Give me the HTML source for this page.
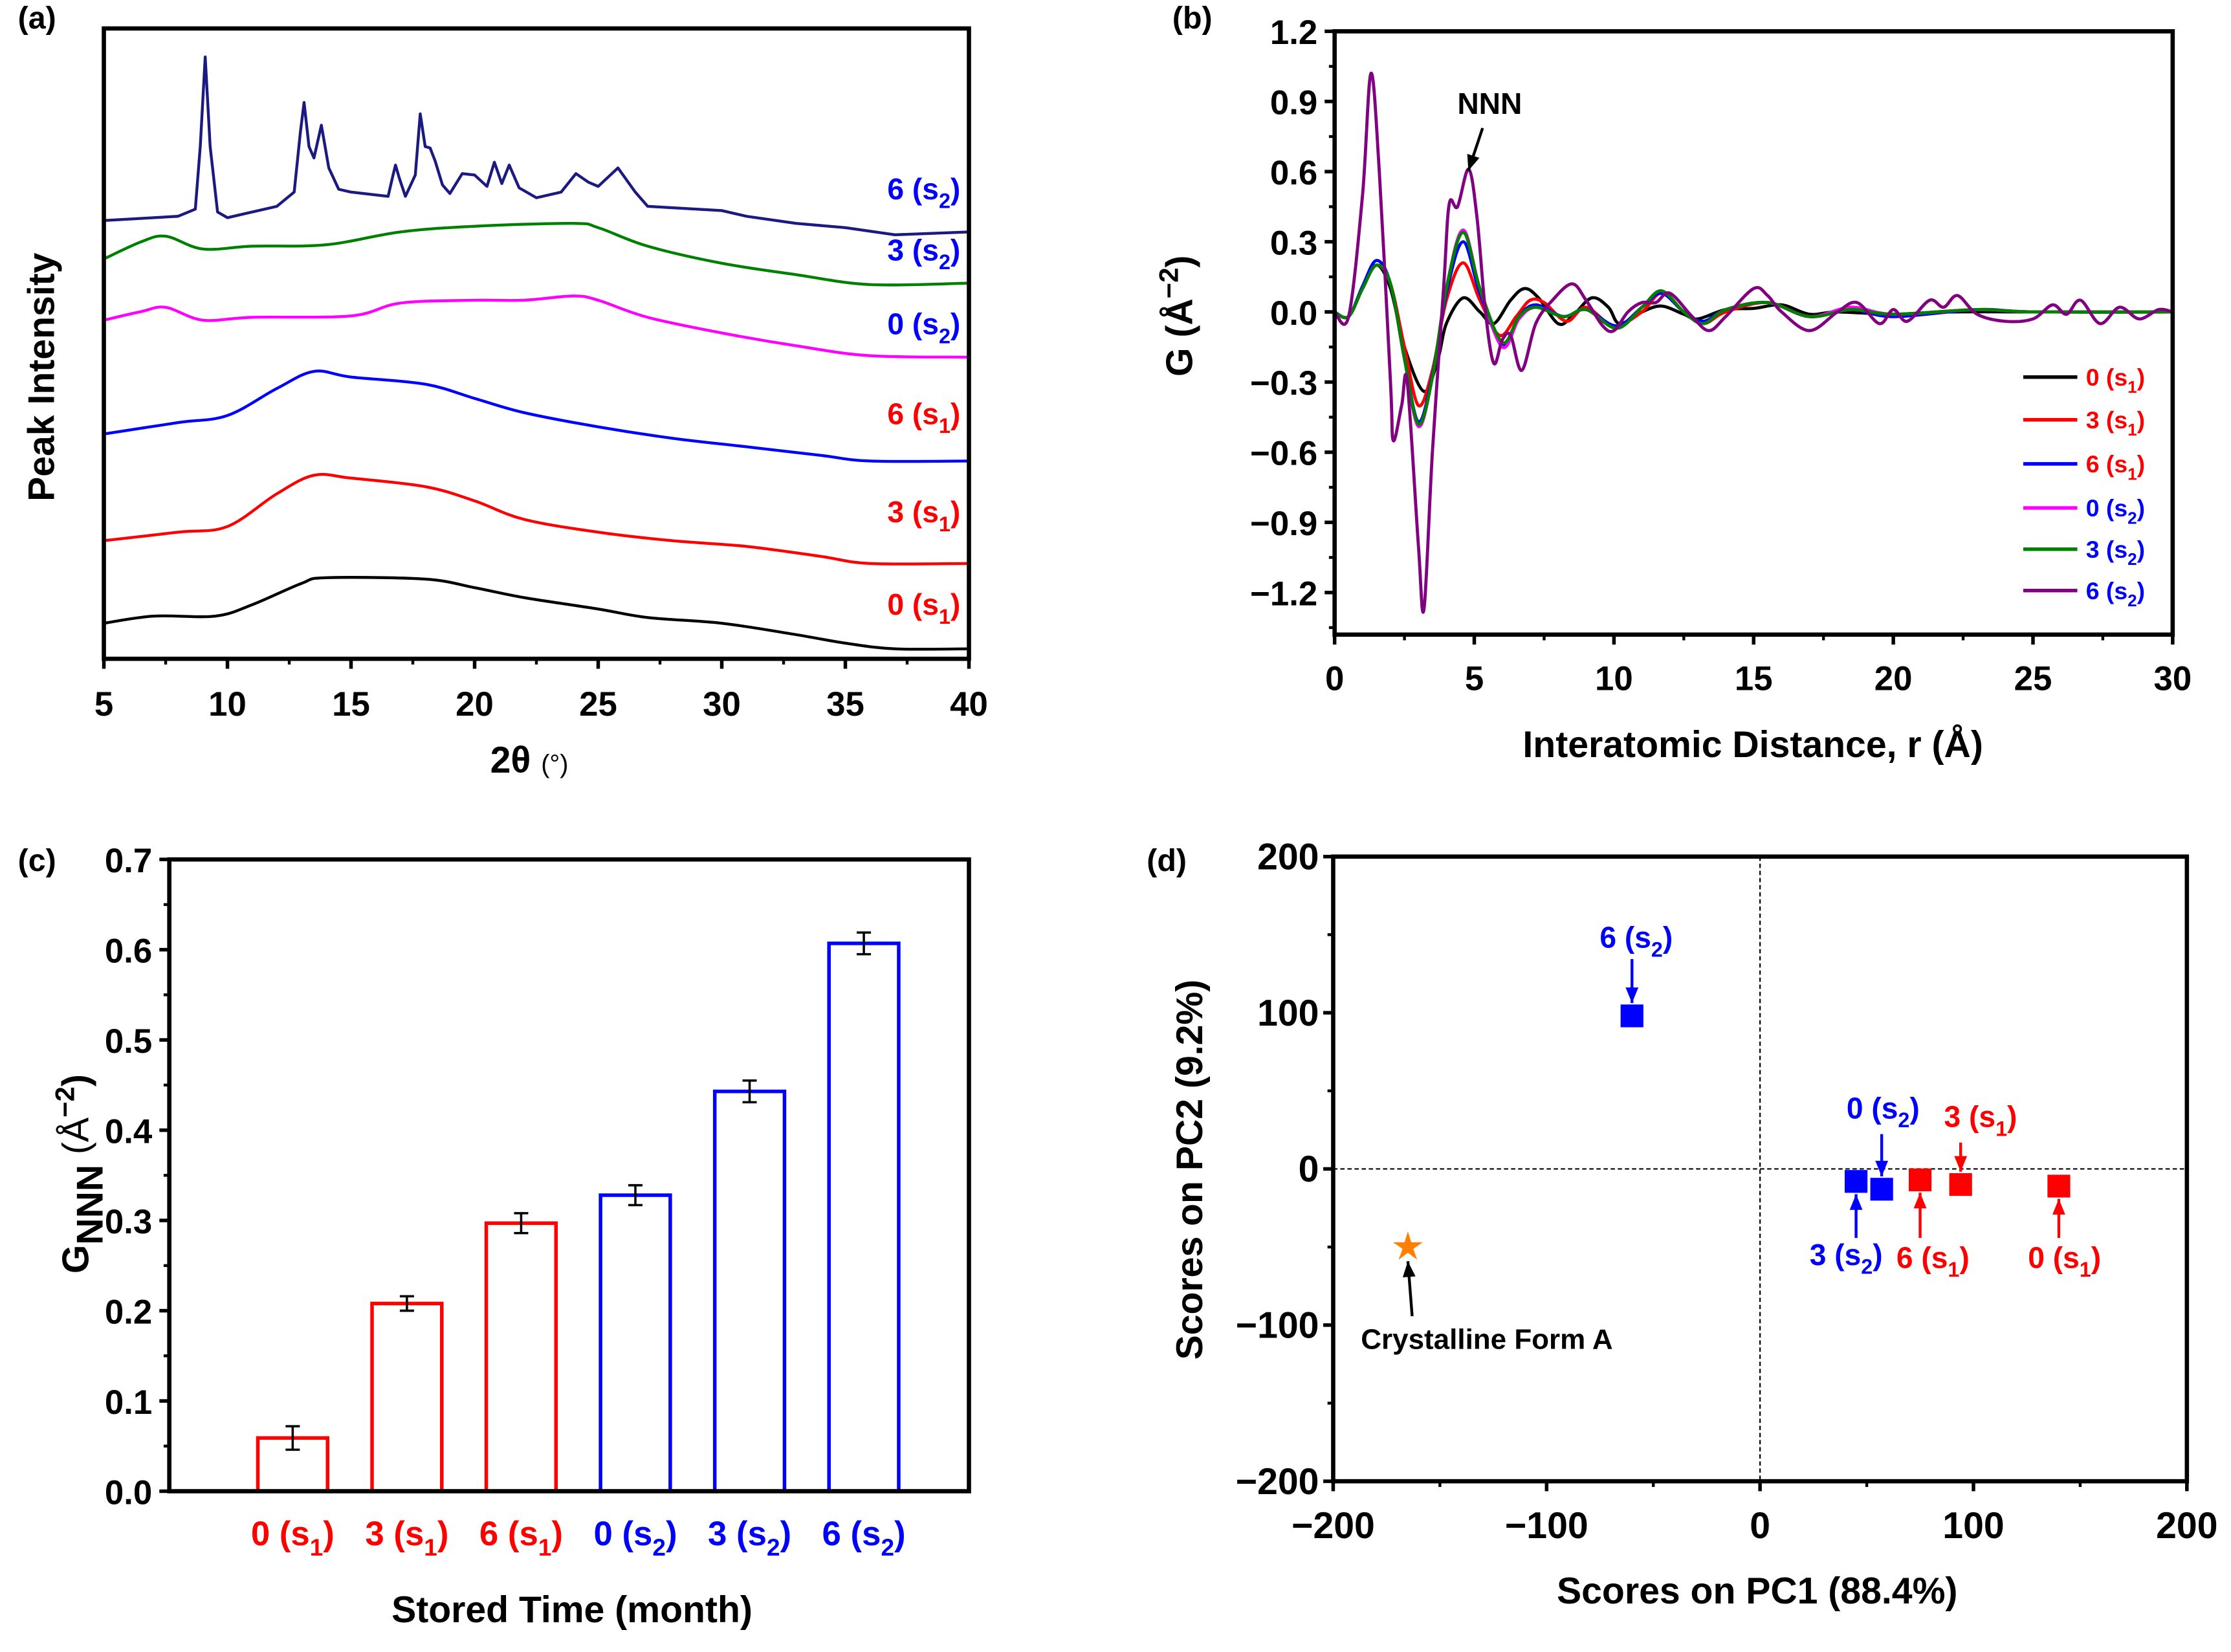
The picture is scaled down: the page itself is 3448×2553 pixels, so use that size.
<!DOCTYPE html>
<html><head><meta charset="utf-8"><style>
html,body{margin:0;padding:0;background:#fff;}
svg{display:block;}
text{font-family:"Liberation Sans Narrow","Liberation Sans",sans-serif;font-weight:bold;}
</style></head><body>
<svg id="fig" width="3448" height="2553" viewBox="0 0 1568 1161" preserveAspectRatio="none" xmlns="http://www.w3.org/2000/svg"></svg>
<script>
// ---------- Panel (a) data: XRD ----------
const xrdNames=["0 (s1)","3 (s1)","6 (s1)","0 (s2)","3 (s2)","6 (s2)"];
const xrdColors=["#000","#f00","#00f","#f0f","#008000","#1a1a80"];
const xrd0s1=[[5,25],[7,30],[9.5,30],[11,38],[13,53],[14,57],[18,56],[20,50],[22,43],[25,35],[27,29],[30,25],[33,17],[35,11],[37,7],[40,7]];
const xrd3s1=[[5,83],[8,89],[10,93],[12,116],[13.5,129],[15,127],[18,121],[20,111],[22,98],[25,89],[28,83],[31,79],[34,72],[36,67],[40,67]];
const xrd6s1=[[5,158],[8,166],[10,171],[12,190],[13.5,202],[15,198],[18,193],[20,183],[22,173],[25,163],[28,155],[31,149],[34,143],[36,139],[40,139]];
const xrd0s2=[[5,238],[6.5,244],[7.5,247],[9,238],[11,240],[15,241],[17,250],[20,252],[22,252],[24,255],[25,252],[27,240],[30,229],[33,220],[36,213],[40,212]];
const xrd3s2=[[5,281],[6.5,293],[7.5,297],[9,288],[11,290],[14,291],[17,300],[20,304],[24,306],[25,303],[27,290],[30,278],[33,270],[36,263],[40,264]];
const xrd6s2=[[5,308],[8,311],[8.7,316],[8.9,360],[9.1,423],[9.3,360],[9.6,314],[10,310],[12,318],[12.7,328],[12.95,370],[13.1,391],[13.3,360],[13.5,352],[13.8,375],[14.1,345],[14.5,330],[15,328],[16.5,325],[16.7,340],[16.8,347],[16.95,338],[17.2,325],[17.6,340],[17.8,383],[18.0,360],[18.2,359],[18.4,350],[18.7,333],[19,327],[19.5,341],[20,340],[20.5,332],[20.8,349],[21.1,334],[21.4,347],[21.8,331],[22.5,324],[23.5,328],[24.1,341],[24.6,335],[25,332],[25.8,345],[26.5,328],[27,318],[28,317],[30,315],[31,311],[33,306],[35,303],[37,298],[40,300]];
const xrdSeries=[xrd0s1,xrd3s1,xrd6s1,xrd0s2,xrd3s2,xrd6s2];
const xrdTicks=[5,10,15,20,25,30,35,40];
// ---------- Panel (b) data: PDF ----------
const pdfNames=["0 (s1)","3 (s1)","6 (s1)","0 (s2)","3 (s2)","6 (s2)"];
const pdfColors=["#000","#f00","#00f","#f0f","#008000","#800080"];
const g0s1=[[0,0],[.5,-.02],[1,.1],[1.5,.2],[2,.1],[2.5,-.15],[3.2,-.34],[3.7,-.2],[4,-.05],[4.6,.06],[5.2,0],[5.7,-.05],[6.3,.05],[6.8,.1],[7.3,.06],[8,-.05],[8.5,-.02],[9.2,.06],[9.8,.02],[10.2,-.05],[11,0],[11.7,.025],[12.5,-.01],[13,-.03],[14,.01],[15,.015],[16,.03],[17,-.01],[18,0],[20,-.01],[22,0],[25,0],[30,0]];
const g3s1=[[0,0],[.5,-.02],[1,.1],[1.5,.2],[2,.12],[2.5,-.15],[3,-.40],[3.5,-.25],[4,.05],[4.6,.21],[5.2,.05],[5.9,-.1],[6.5,-.02],[7,.05],[7.5,.04],[8.3,-.04],[9,.02],[10,-.06],[11,0],[11.7,.08],[12.5,0],[13.2,-.05],[14,0],[15.5,.04],[17,-.02],[18.5,.01],[20,-.01],[23,.01],[25,0],[30,0]];
const g6s1=[[0,0],[.5,-.02],[1,.11],[1.5,.22],[2,.12],[2.5,-.2],[3,-.47],[3.5,-.27],[4,.08],[4.6,.30],[5.2,.08],[6,-.14],[6.6,-.02],[7.2,.03],[8.2,-.02],[9,.01],[10.1,-.06],[11,.02],[11.7,.08],[12.5,0],[13.2,-.04],[14,.01],[15.5,.04],[17,-.02],[18.5,.01],[20,-.02],[23,.01],[25,0],[30,0]];
const g0s2=[[0,0],[.5,-.02],[1,.1],[1.5,.2],[2,.12],[2.5,-.2],[3,-.49],[3.5,-.28],[4,.1],[4.6,.35],[5.2,.1],[6,-.15],[6.6,-.03],[7.2,.02],[8.2,-.02],[9,.01],[10.1,-.07],[11,.02],[11.7,.09],[12.5,0],[13.2,-.05],[14,.01],[15.5,.04],[17,-.02],[18.5,.02],[20,-.01],[23,.01],[25,0],[30,0]];
const g3s2=[[0,0],[.5,-.02],[1,.1],[1.5,.2],[2,.12],[2.5,-.2],[3,-.48],[3.5,-.28],[4,.1],[4.6,.34],[5.2,.1],[6,-.13],[6.6,-.02],[7.2,.02],[8.2,-.02],[9,.01],[10.1,-.07],[11,.02],[11.7,.09],[12.5,0],[13.2,-.05],[14,.01],[15.5,.04],[17,-.02],[18.5,.01],[20,-.01],[23,.01],[25,0],[30,0]];
const g6s2=[[0,0],[.5,-.02],[1,.5],[1.3,1.02],[1.6,.6],[2,-.3],[2.1,-.55],[2.4,-.4],[2.6,-.3],[3,-1.0],[3.2,-1.27],[3.5,-.6],[3.9,.1],[4.1,.46],[4.4,.45],[4.8,.61],[5.1,.4],[5.4,0],[5.7,-.22],[6,-.12],[6.3,-.1],[6.7,-.25],[7.2,-.05],[7.8,.05],[8.5,.12],[9,.05],[9.6,-.06],[10,-.08],[10.5,0],[11,.04],[11.5,.04],[12,.08],[12.8,-.02],[13.4,-.08],[14,-.02],[15,.1],[15.5,.07],[16,0],[17,-.08],[18,0],[18.7,.04],[19.5,-.05],[20,.01],[20.5,-.04],[21.3,.05],[21.8,.02],[22.3,.07],[23,-.01],[24,-.04],[25,-.03],[25.7,.03],[26.2,-.01],[26.7,.05],[27.4,-.05],[28.1,.02],[28.8,-.03],[29.5,.01],[30,0]];
const pdfSeries=[g0s1,g3s1,g6s1,g0s2,g3s2,g6s2];
const pdfXTicks=[0,5,10,15,20,25,30];
const pdfYTicks=[1.2,0.9,0.6,0.3,0.0,-0.3,-0.6,-0.9,-1.2];
// ---------- Panel (c) data: bars ----------
const barCats=["0 (s1)","3 (s1)","6 (s1)","0 (s2)","3 (s2)","6 (s2)"];
const barVals=[0.059,0.208,0.297,0.328,0.443,0.607];
const barErrs=[0.013,0.008,0.011,0.011,0.012,0.012];
const barYTicks=[0,0.1,0.2,0.3,0.4,0.5,0.6,0.7];
// ---------- Panel (d) data: PCA ----------
const pcaNames=["6 (s2)","3 (s2)","0 (s2)","6 (s1)","3 (s1)","0 (s1)","Crystalline Form A"];
const pcaX=[-60,45,57,75,94,140,-165];
const pcaY=[98,-8,-13,-7,-10,-11,-50];
const pcaTicks=[-200,-100,0,100,200];

const svg=document.getElementById('fig');
const NS="http://www.w3.org/2000/svg";
function el(tag,attrs,parent){const e=document.createElementNS(NS,tag);for(const k in attrs)e.setAttribute(k,attrs[k]);(parent||svg).appendChild(e);return e;}
function txt(s,x,y,size,opts,parent){opts=opts||{};const t=el('text',{x:x,y:y,'font-size':size,'text-anchor':opts.anchor||'middle',fill:opts.fill||'#000'},parent);if(opts.rot)t.setAttribute('transform','rotate(-90 '+x+' '+y+')');t.textContent=s;return t;}
function lab(s,x,y,size,c1,c2,anchor,parent){
  const m=s.match(/^(.*)\(s(\d)\)$/);
  const t=el('text',{x:x,y:y,'font-size':size,'text-anchor':anchor||'middle',fill:c1},parent);
  const a=el('tspan',{},t);a.textContent=m?m[1]+'(s':s;
  if(m){const b=el('tspan',{dy:size*0.3,'font-size':size*0.7},t);b.textContent=m[2];const c=el('tspan',{dy:-size*0.3},t);c.textContent=')';}
  return t;}
function smooth(pts){let d='M'+pts[0][0]+','+pts[0][1];for(let i=0;i<pts.length-1;i++){const p0=pts[Math.max(0,i-1)],p1=pts[i],p2=pts[i+1],p3=pts[Math.min(pts.length-1,i+2)];const c1x=p1[0]+(p2[0]-p0[0])/6,c1y=p1[1]+(p2[1]-p0[1])/6,c2x=p2[0]-(p3[0]-p1[0])/6,c2y=p2[1]-(p3[1]-p1[1])/6;d+=' C'+c1x.toFixed(2)+','+c1y.toFixed(2)+' '+c2x.toFixed(2)+','+c2y.toFixed(2)+' '+p2[0].toFixed(2)+','+p2[1].toFixed(2);}return d;}
function linear(pts){return 'M'+pts.map(p=>p[0].toFixed(2)+','+p[1].toFixed(2)).join(' L');}
function arrow(x1,y1,x2,y2,color,g){el('line',{x1:x1,y1:y1,x2:x2,y2:y2,stroke:color,'stroke-width':2},g);const a=Math.atan2(y2-y1,x2-x1),L=11,W=4.5;const bx=x2-L*Math.cos(a),by=y2-L*Math.sin(a);el('polygon',{points:x2+','+y2+' '+(bx+W*Math.sin(a))+','+(by-W*Math.cos(a))+' '+(bx-W*Math.sin(a))+','+(by+W*Math.cos(a)),fill:color},g);}

// ===== Panel (a) =====
(function(){
const g=el('g',{});
const L=73,R=681,T=20,B=463;
const sx=v=>L+(v-5)/35*(R-L), sy=v=>B-v*(B-T)/443;
xrdSeries.forEach((s,i)=>{const pts=s.map(q=>[sx(q[0]),sy(q[1])]);const p=el('path',{d:i===5?linear(pts):smooth(pts),fill:'none',stroke:xrdColors[i],'stroke-width':2,'stroke-linejoin':'round'},g);});
el('rect',{x:L,y:T,width:R-L,height:B-T,fill:'none',stroke:'#000','stroke-width':3},g);
xrdTicks.forEach(v=>{el('line',{x1:sx(v),y1:B,x2:sx(v),y2:B+7,stroke:'#000','stroke-width':2.5},g);if(v<40)el('line',{x1:sx(v+2.5),y1:B,x2:sx(v+2.5),y2:B+4,stroke:'#000','stroke-width':2},g);txt(String(v),sx(v),B+40,24,{},g);});
const labY=[432,367,298,235,183,140];
xrdNames.forEach((n,i)=>{const t=lab(n,675,labY[i],21,i<3?'#f00':'#00f',null,'end',g);});
txt('Peak Intensity',38,265,26,{rot:true},g);
const xt=el('text',{x:372,y:543,'font-size':26,'text-anchor':'middle'},g);xt.textContent='2θ ';const sp=el('tspan',{'font-size':18,'font-weight':'normal'},xt);sp.textContent='(°)';
txt('(a)',26,20,22,{},g);
})();

// ===== Panel (b) =====
(function(){
const g=el('g',{});
const L=938,R=1527,T=22,B=446,y0=-1.38,y1=1.2;
const sx=v=>L+v/30*(R-L), sy=v=>B-(v-y0)/(y1-y0)*(B-T);
pdfSeries.forEach((s,i)=>{const p=el('path',{d:smooth(s.map(q=>[sx(q[0]),sy(q[1])])),fill:'none',stroke:pdfColors[i],'stroke-width':2.2},g);});
el('rect',{x:L,y:T,width:R-L,height:B-T,fill:'none',stroke:'#000','stroke-width':3},g);
pdfXTicks.forEach(v=>{el('line',{x1:sx(v),y1:B,x2:sx(v),y2:B+7,stroke:'#000','stroke-width':2.5},g);if(v<30)el('line',{x1:sx(v+2.5),y1:B,x2:sx(v+2.5),y2:B+4,stroke:'#000','stroke-width':2},g);txt(String(v),sx(v),B+39,24,{},g);});
pdfYTicks.forEach(v=>{el('line',{x1:L-7,y1:sy(v),x2:L,y2:sy(v),stroke:'#000','stroke-width':2.5},g);el('line',{x1:L-4,y1:sy(v-0.15),x2:L,y2:sy(v-0.15),stroke:'#000','stroke-width':2},g);txt((v<0?'−':'')+Math.abs(v).toFixed(1),L-12,sy(v)+9,24,{anchor:'end'},g);});
const legY=[265,295,326,357,386,415];
pdfNames.forEach((n,i)=>{el('line',{x1:1422,y1:legY[i],x2:1460,y2:legY[i],stroke:pdfColors[i],'stroke-width':2.5},g);const t=lab(n,1466,legY[i]+6,17,i<3?'#f00':'#00f',null,'start',g);});
txt('NNN',1047,80,21,{},g);arrow(1042,90,1032,120,'#000',g);
const yt=el('text',{x:838,y:222,'font-size':26,'text-anchor':'middle',transform:'rotate(-90 838 222)'},g);yt.textContent='G (Å';const s1=el('tspan',{dy:-10,'font-size':19},yt);s1.textContent='−2';const s2=el('tspan',{dy:10},yt);s2.textContent=')';
txt('Interatomic Distance, r (Å)',1232,532,26,{},g);
txt('(b)',838,20,22,{},g);
})();

// ===== Panel (c) =====
(function(){
const g=el('g',{});
const L=119,R=681,T=604,B=1048;
const sy=v=>B-v/0.7*(B-T);
const band=(R-L)/7, bw=49;
const cx=i=>L+band*(i+1.08);
barVals.forEach((v,i)=>{const c=i<3?'#f00':'#00f';const r=el('rect',{x:cx(i)-bw/2,y:sy(v),width:bw,height:B-sy(v),fill:'none',stroke:c,'stroke-width':2.5},g);
const e=barErrs[i];el('line',{x1:cx(i),y1:sy(v+e),x2:cx(i),y2:sy(v-e),stroke:'#000','stroke-width':1.6},g);el('line',{x1:cx(i)-5,y1:sy(v+e),x2:cx(i)+5,y2:sy(v+e),stroke:'#000','stroke-width':1.6},g);el('line',{x1:cx(i)-5,y1:sy(v-e),x2:cx(i)+5,y2:sy(v-e),stroke:'#000','stroke-width':1.6},g);
lab(barCats[i],cx(i),1086,24,c,null,'middle',g);});
el('rect',{x:L,y:T,width:R-L,height:B-T,fill:'none',stroke:'#000','stroke-width':3},g);
barYTicks.forEach(v=>{el('line',{x1:L-7,y1:sy(v),x2:L,y2:sy(v),stroke:'#000','stroke-width':2.5},g);if(v<0.65)el('line',{x1:L-4,y1:sy(v+0.05),x2:L,y2:sy(v+0.05),stroke:'#000','stroke-width':2},g);txt(v.toFixed(1),L-12,sy(v)+9,24,{anchor:'end'},g);});
txt('Stored Time (month)',402,1140,26,{},g);
const yt=el('text',{x:62,y:825,'font-size':26,'text-anchor':'middle',transform:'rotate(-90 62 825)'},g);yt.textContent='G';const a=el('tspan',{dy:10},yt);a.textContent='NNN';const b=el('tspan',{dy:-10,'font-weight':'normal'},yt);b.textContent='  (Å';const c=el('tspan',{dy:-10,'font-size':19},yt);c.textContent='−2';const d=el('tspan',{dy:10},yt);d.textContent=')';
txt('(c)',26,612,22,{},g);
})();

// ===== Panel (d) =====
(function(){
const g=el('g',{});
const L=937,R=1537,T=602,B=1041;
const sx=v=>L+(v+200)/400*(R-L), sy=v=>B-(v+200)/400*(B-T);
el('line',{x1:L,y1:sy(0),x2:R,y2:sy(0),stroke:'#000','stroke-width':1,'stroke-dasharray':'3,2'},g);
el('line',{x1:sx(0),y1:T,x2:sx(0),y2:B,stroke:'#000','stroke-width':1,'stroke-dasharray':'3,2'},g);
el('rect',{x:L,y:T,width:R-L,height:B-T,fill:'none',stroke:'#000','stroke-width':3},g);
pcaTicks.forEach(v=>{el('line',{x1:sx(v),y1:B,x2:sx(v),y2:B+7,stroke:'#000','stroke-width':2.5},g);if(v<200)el('line',{x1:sx(v+50),y1:B,x2:sx(v+50),y2:B+4,stroke:'#000','stroke-width':2},g);txt((v<0?'−':'')+Math.abs(v),sx(v),B+40,26,{},g);
el('line',{x1:L-7,y1:sy(v),x2:L,y2:sy(v),stroke:'#000','stroke-width':2.5},g);if(v<200)el('line',{x1:L-4,y1:sy(v+50),x2:L,y2:sy(v+50),stroke:'#000','stroke-width':2},g);txt((v<0?'−':'')+Math.abs(v),L-10,sy(v)+9,26,{anchor:'end'},g);});
pcaX.forEach((x,i)=>{const X=sx(x),Y=sy(pcaY[i]);let m;
 if(i===6){const pts=[];for(let k=0;k<10;k++){const r=k%2?4:11,a=-Math.PI/2+k*Math.PI/5;pts.push((X+r*Math.cos(a)).toFixed(1)+','+(Y+r*Math.sin(a)).toFixed(1));}m=el('polygon',{points:pts.join(' '),fill:'#ff8000'},g);}
 else m=el('rect',{x:X-8,y:Y-8,width:16,height:16,fill:i<3?'#00f':'#f00'},g);
 });
const P=i=>[sx(pcaX[i]),sy(pcaY[i])];
let p=P(0);lab('6 (s2)',p[0]+3,666,21,'#00f',null,'middle',g);arrow(p[0],674,p[0],p[1]-9,'#00f',g);
p=P(2);lab('0 (s2)',p[0]+1,786,21,'#00f',null,'middle',g);arrow(p[0],797,p[0],p[1]-9,'#00f',g);
p=P(4);lab('3 (s1)',p[0]+14,792,21,'#f00',null,'middle',g);arrow(p[0],803,p[0],p[1]-9,'#f00',g);
p=P(1);lab('3 (s2)',p[0]-7,889,21,'#00f',null,'middle',g);arrow(p[0],870,p[0],p[1]+9,'#00f',g);
p=P(3);lab('6 (s1)',p[0]+9,891,21,'#f00',null,'middle',g);arrow(p[0],870,p[0],p[1]+9,'#f00',g);
p=P(5);lab('0 (s1)',p[0]+4,891,21,'#f00',null,'middle',g);arrow(p[0],870,p[0],p[1]+9,'#f00',g);
p=P(6);txt('Crystalline Form A',1045,948,20,{},g);arrow(p[0]+3,925,p[0],p[1]+10,'#000',g);
txt('Scores on PC2 (9.2%)',845,822,26,{rot:true},g);
txt('Scores on PC1 (88.4%)',1235,1127,26,{},g);
txt('(d)',820,612,22,{},g);
})();
</script>
</body></html>
